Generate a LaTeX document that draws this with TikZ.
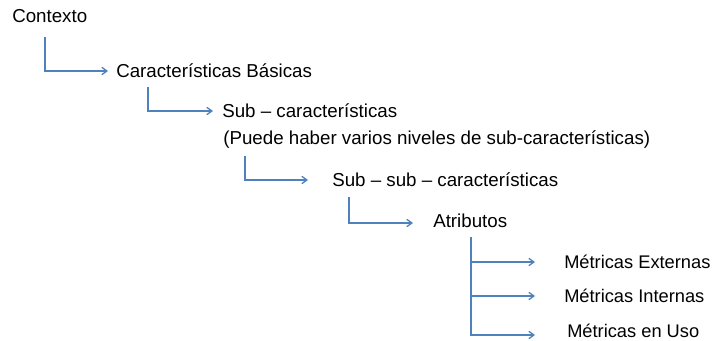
\documentclass[tikz,border=0pt]{standalone}
\usepackage{fontspec}
\setmainfont{Liberation Sans}
\usetikzlibrary{arrows.meta}

\definecolor{linkblue}{RGB}{79,129,189}

\begin{document}
\begin{tikzpicture}[x=0.75pt, y=-0.75pt,
    every node/.style={inner sep=0pt, anchor=base west, text height=10.5pt, text depth=0pt,
      font=\fontsize{14.05}{16}\selectfont},
    metric/.style={font=\fontsize{13.7}{16}\selectfont},
    link/.style={color=linkblue, line width=1pt, -{Straight Barb[length=3.8pt, width=5.5pt]}},
    elbow/.style={to path={|- (\tikztotarget)}}]
  \useasboundingbox (0,0) rectangle (713,341);

  \node (ctx) at (12,23) {Contexto};
  \node (basic) at (116,78) {Características Básicas};
  \node (sub) at (222,118) {Sub – características};
  \node (note) at (223,145) {(Puede haber varios niveles de sub-características)};
  \node (subsub) at (332,187) {Sub – sub – características};
  \node (attr) at (433,228) {Atributos};
  \node (mext) [metric] at (564,269) {Métricas Externas};
  \node (mint) [metric] at (564,303) {Métricas Internas};
  \node (muse) [metric] at (567,338) {Métricas en Uso};

  \path [link]
    ([shift={(33,14)}]ctx.base west) edge [elbow, shorten >=6pt] (basic.west)
    ([shift={(32,9)}]basic.base west) edge [elbow, shorten >=6.75pt] (sub.west)
    ([shift={(22,11)}]note.base west) edge [elbow, shorten >=18pt] (subsub.west)
    ([shift={(17,10)}]subsub.base west) edge [elbow, shorten >=15pt] ([shift={(0,2)}]attr.west)
    ([shift={(38,9)}]attr.base west) edge [elbow, shorten >=21.75pt] (mext.west)
    ([shift={(38,9)}]attr.base west) edge [elbow, shorten >=21.75pt] (mint.west)
    ([shift={(38,9)}]attr.base west) edge [elbow, shorten >=24pt] ([shift={(0,4)}]muse.west);
\end{tikzpicture}
\end{document}
